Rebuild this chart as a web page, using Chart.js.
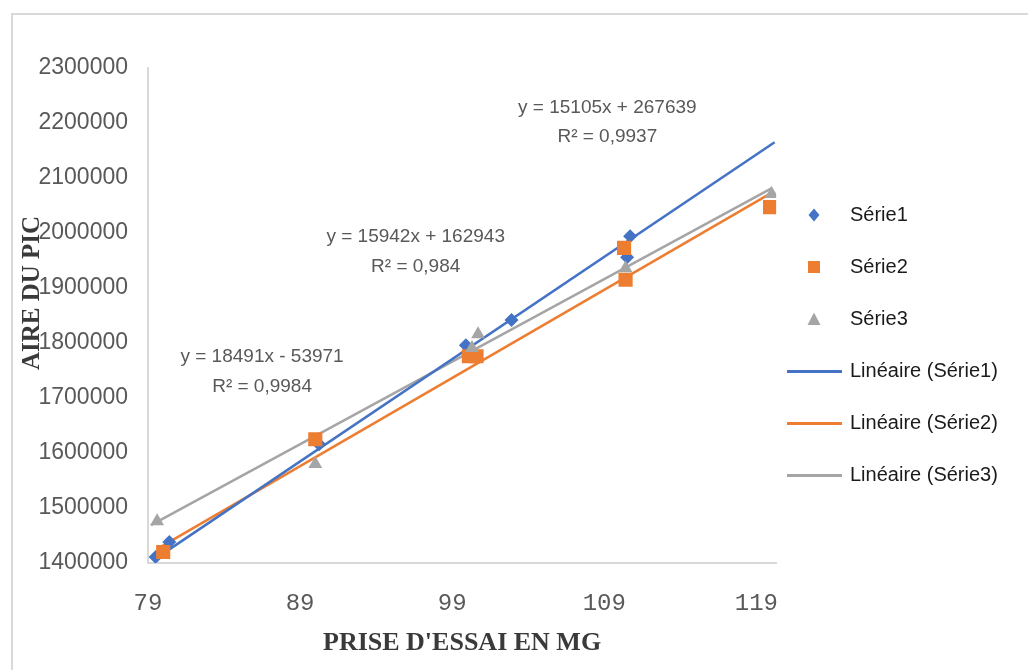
<!DOCTYPE html>
<html><head><meta charset="utf-8">
<script src="https://cdn.jsdelivr.net/npm/chart.js@4.4.1/dist/chart.umd.min.js"></script>
<style>
html,body{margin:0;padding:0;background:#fff;}
#wrap{position:relative;width:1028px;height:670px;overflow:hidden;background:#fff;}
#frame{position:absolute;left:11px;top:13px;width:1100px;height:800px;border:2px solid #d9d9d9;box-sizing:border-box;}
#box{position:absolute;left:0;top:0;width:1028px;height:670px;}
</style></head><body>
<div id="wrap"><div id="frame"></div><div id="box"><canvas id="c"></canvas></div></div>
<script>
// ---- data ----
const s1X = [79.5, 80.4, 90.25, 99.9, 102.9, 110.5, 110.7];
const s1Y = [1411000, 1438000, 1616000, 1796000, 1842000, 1956000, 1994000];
const s2X = [80.0, 90.0, 100.1, 100.6, 110.3, 110.4, 119.9];
const s2Y = [1420000, 1625000, 1776000, 1776000, 1973000, 1915000, 2047000];
const s3X = [79.6, 90.0, 100.3, 100.7, 110.4, 120.0];
const s3Y = [1476000, 1580000, 1791000, 1816000, 1936000, 2071000];
const t1X = [79.5, 120.2];  const t1Y = [1408000, 2165000];
const t2X = [79.7, 120.05]; const t2Y = [1427000, 2074000];
const t3X = [79.2, 120.05]; const t3Y = [1469000, 2082000];
const xTicks = [79, 89, 99, 109, 119];
const xTickLabels = ['79', '89', '99', '109', '119'];
const yTicks = [1400000, 1500000, 1600000, 1700000, 1800000, 1900000, 2000000, 2100000, 2200000, 2300000];
const yTickLabels = ['1400000', '1500000', '1600000', '1700000', '1800000', '1900000', '2000000', '2100000', '2200000', '2300000'];
const seriesNames = ['Série1', 'Série2', 'Série3', 'Linéaire (Série1)', 'Linéaire (Série2)', 'Linéaire (Série3)'];
const eqTexts = ['y = 15105x + 267639', 'R² = 0,9937', 'y = 15942x + 162943', 'R² = 0,984', 'y = 18491x - 53971', 'R² = 0,9984'];
const xTitle = "PRISE D'ESSAI EN MG";
const yTitle = 'AIRE DU PIC';

// ---- layout / style (not data) ----
const eqAnchorX = [109.2, 109.2, 96.6, 96.6, 86.5, 86.5];
const eqAnchorY = [2227000, 2174500, 1992700, 1938000, 1774500, 1720000];
const BLUE = '#4472C4', ORANGE = '#ED7D31', GRAY = '#A5A5A5';

const pts = (xs, ys) => xs.map((x, i) => ({x: x, y: ys[i]}));

function markerCanvas(kind, color) {
  const c = document.createElement('canvas');
  const ctx = c.getContext('2d');
  if (kind === 'line') {
    c.width = 55; c.height = 3;
    ctx.fillStyle = color; ctx.fillRect(0, 0, 55, 3);
    return c;
  }
  c.width = 14; c.height = 14;
  ctx.fillStyle = color;
  ctx.beginPath();
  if (kind === 'diamond') { ctx.moveTo(7, 0.5); ctx.lineTo(12.5, 7); ctx.lineTo(7, 13.5); ctx.lineTo(1.5, 7); }
  else if (kind === 'square') { ctx.rect(1, 1, 12, 12); }
  else { ctx.moveTo(7, 0.5); ctx.lineTo(13.5, 13); ctx.lineTo(0.5, 13); }
  ctx.closePath(); ctx.fill();
  return c;
}
const legendIcons = [
  markerCanvas('diamond', BLUE), markerCanvas('square', ORANGE), markerCanvas('triangle', GRAY),
  markerCanvas('line', BLUE), markerCanvas('line', ORANGE), markerCanvas('line', GRAY)
];

const annotPlugin = {
  id: 'annot',
  afterLayout(chart) {
    const lg = chart.legend;
    const pad = lg.options.labels.padding;
    const fs = lg.options.labels.font.size;
    const dx = 788 - (lg.left + pad);
    lg.left += dx; lg.right += dx;
    lg.top = 215 - fs / 2 - pad;
  },
  afterDatasetsDraw(chart) {
    const ctx = chart.ctx, xs = chart.scales.x, ys = chart.scales.y;
    ctx.save();
    ctx.font = '19px "Liberation Sans", Arial, sans-serif';
    ctx.fillStyle = '#595959';
    ctx.textAlign = 'center'; ctx.textBaseline = 'middle';
    eqTexts.forEach((t, i) => {
      ctx.fillText(t, xs.getPixelForValue(eqAnchorX[i]), ys.getPixelForValue(eqAnchorY[i]));
    });
    // y axis title
    const a = chart.chartArea;
    ctx.font = 'bold 25px "Liberation Serif", "Times New Roman", serif';
    ctx.fillStyle = '#3a3a3a';
    ctx.translate(a.left - 115, a.top + 225);
    ctx.rotate(-Math.PI / 2);
    ctx.fillText(yTitle, 0, 0);
    ctx.restore();
  }
};

new Chart(document.getElementById('c'), {
  type: 'scatter',
  data: {
    datasets: [
      {label: seriesNames[0], data: pts(s1X, s1Y), pointStyle: 'rectRot', pointRadius: 7, pointBackgroundColor: BLUE, pointBorderColor: BLUE, pointBorderWidth: 0, order: 3},
      {label: seriesNames[1], data: pts(s2X, s2Y), pointStyle: 'rect', pointRadius: 10, pointBackgroundColor: ORANGE, pointBorderColor: ORANGE, pointBorderWidth: 0, order: 2},
      {label: seriesNames[2], data: pts(s3X, s3Y), pointStyle: 'triangle', pointRadius: 8, pointBackgroundColor: GRAY, pointBorderColor: GRAY, pointBorderWidth: 0, order: 1},
      {label: seriesNames[3], type: 'line', data: pts(t1X, t1Y), showLine: true, borderColor: BLUE, borderWidth: 2.5, pointRadius: 0, fill: false, order: 4},
      {label: seriesNames[4], type: 'line', data: pts(t2X, t2Y), showLine: true, borderColor: ORANGE, borderWidth: 2.5, pointRadius: 0, fill: false, order: 5},
      {label: seriesNames[5], type: 'line', data: pts(t3X, t3Y), showLine: true, borderColor: GRAY, borderWidth: 2.5, pointRadius: 0, fill: false, order: 6}
    ]
  },
  options: {
    responsive: true,
    maintainAspectRatio: false,
    animation: false,
    layout: {padding: {left: 0, top: 68, right: 0, bottom: 0}},
    plugins: {
      tooltip: {enabled: false},
      legend: {
        position: 'right',
        align: 'start',
        maxWidth: 252,
        labels: {
          usePointStyle: true,
          pointStyleWidth: 52,
          padding: 32,
          color: '#1a1a1a',
          font: {family: '"Liberation Sans", Arial, sans-serif', size: 20},
          generateLabels: (chart) => chart.data.datasets.map((ds, i) => ({
            text: ds.label, pointStyle: legendIcons[i], fillStyle: 'transparent', strokeStyle: 'transparent',
            lineWidth: 0, hidden: false, datasetIndex: i, fontColor: '#1a1a1a'
          }))
        }
      }
    },
    scales: {
      x: {
        type: 'linear', min: 79, max: 120.3,
        afterBuildTicks: (s) => { s.ticks = xTicks.map(v => ({value: v})); },
        afterFit: (s) => { s.height = 107; },
        grid: {display: false, drawTicks: false},
        border: {display: true, color: '#d9d9d9', width: 2},
        ticks: {
          padding: 26, color: '#595959', maxRotation: 0, autoSkip: false,
          font: {family: '"Liberation Mono", "DejaVu Sans Mono", monospace', size: 24},
          callback: (v) => { const k = xTicks.indexOf(v); return k >= 0 ? xTickLabels[k] : ''; }
        },
        title: {
          display: true, text: xTitle, color: '#3a3a3a',
          font: {family: '"Liberation Serif", "Times New Roman", serif', size: 26, weight: 'bold'},
          padding: {top: 0, bottom: 11}
        }
      },
      y: {
        type: 'linear', min: 1400000, max: 2300000,
        afterBuildTicks: (s) => { s.ticks = yTicks.map(v => ({value: v})); },
        afterFit: (s) => { s.width = 148; },
        grid: {display: false, drawTicks: false},
        border: {display: true, color: '#d9d9d9', width: 2},
        ticks: {
          padding: 20, color: '#595959',
          font: {family: '"Liberation Sans", Arial, sans-serif', size: 23},
          callback: (v) => { const k = yTicks.indexOf(v); return k >= 0 ? yTickLabels[k] : ''; }
        }
      }
    }
  },
  plugins: [annotPlugin]
});
</script>
</body></html>
